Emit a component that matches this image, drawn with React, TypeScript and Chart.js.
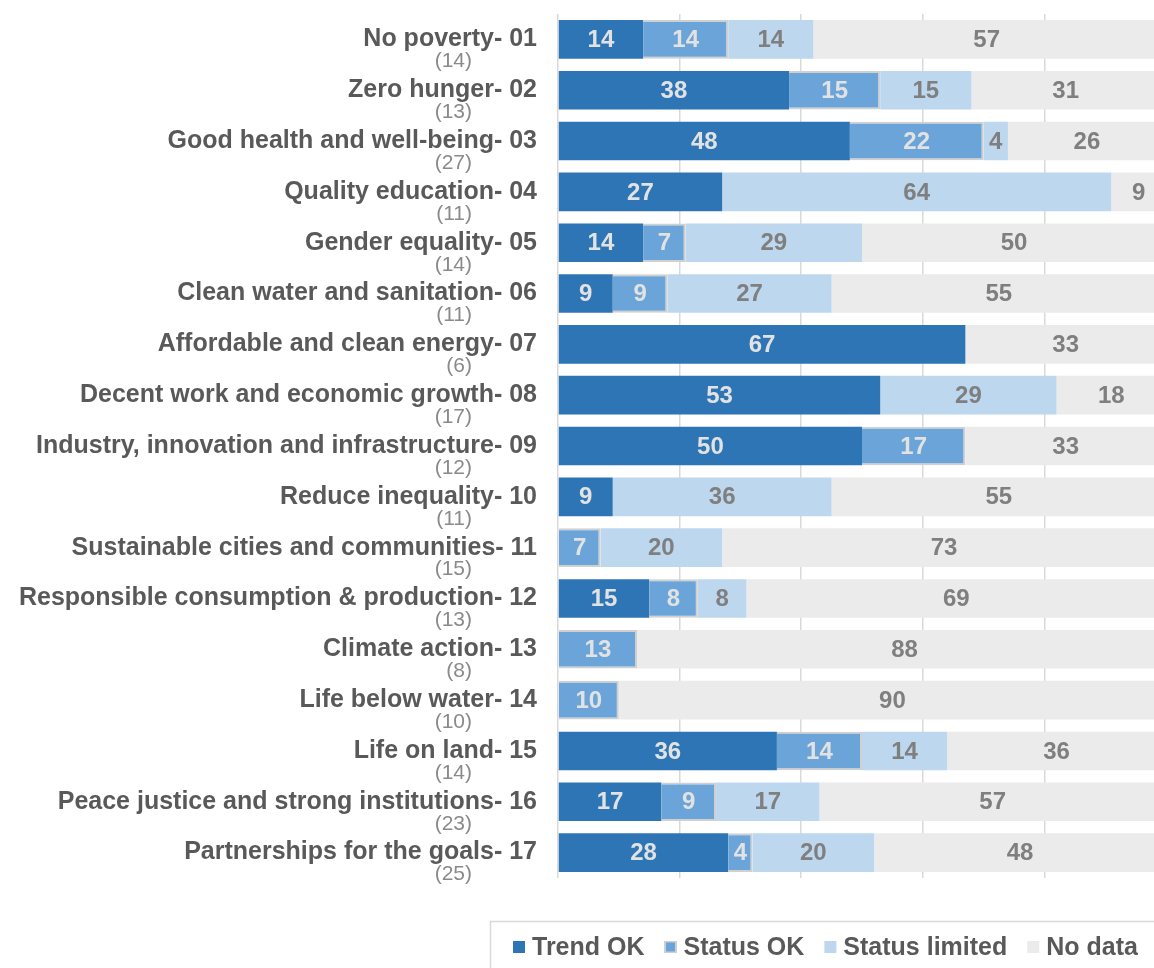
import React, { useEffect, useRef } from "react";
import { Chart, registerables } from "chart.js";

Chart.register(...registerables);

const categories = [
  "No poverty- 01",
  "Zero hunger- 02",
  "Good health and well-being- 03",
  "Quality education- 04",
  "Gender equality- 05",
  "Clean water and sanitation- 06",
  "Affordable and clean energy- 07",
  "Decent work and economic growth- 08",
  "Industry, innovation and infrastructure- 09",
  "Reduce inequality- 10",
  "Sustainable cities and communities- 11",
  "Responsible consumption & production- 12",
  "Climate action- 13",
  "Life below water- 14",
  "Life on land- 15",
  "Peace justice and strong institutions- 16",
  "Partnerships for the goals- 17",
];

const indicatorCounts = [14, 13, 27, 11, 14, 11, 6, 17, 12, 11, 15, 13, 8, 10, 14, 23, 25];

const trendOK = [14, 38, 48, 27, 14, 9, 67, 53, 50, 9, 0, 15, 0, 0, 36, 17, 28];
const statusOK = [14, 15, 22, 0, 7, 9, 0, 0, 17, 0, 7, 8, 13, 10, 14, 9, 4];
const statusLimited = [14, 15, 4, 64, 29, 27, 0, 29, 0, 36, 20, 8, 0, 0, 14, 17, 20];
const noData = [57, 31, 26, 9, 50, 55, 33, 18, 33, 55, 73, 69, 88, 90, 36, 57, 48];

const seriesNames = ["Trend OK", "Status OK", "Status limited", "No data"];

const FONT = "'Liberation Sans', Arial, sans-serif";

export default function App() {
  const ref = useRef<HTMLCanvasElement | null>(null);

  useEffect(() => {
    if (!ref.current) return;

    const valueLabels = {
      id: "valueLabels",
      afterDatasetsDraw(chart: any) {
        const ctx = chart.ctx;
        ctx.save();
        ctx.font = `bold 24px ${FONT}`;
        ctx.textAlign = "center";
        ctx.textBaseline = "middle";
        chart.data.datasets.forEach((ds: any, i: number) => {
          const meta = chart.getDatasetMeta(i);
          meta.data.forEach((el: any, j: number) => {
            const v = ds.data[j];
            if (!v) return;
            ctx.fillStyle = ds.labelColor;
            ctx.fillText(String(v), (el.x + el.base) / 2, el.y + 1);
          });
        });
        ctx.restore();
      },
    };

    const countLabels = {
      id: "countLabels",
      afterDraw(chart: any) {
        const ctx = chart.ctx;
        const y = chart.scales.y;
        ctx.save();
        ctx.font = `21px ${FONT}`;
        ctx.fillStyle = "#8a8a8a";
        ctx.textAlign = "right";
        ctx.textBaseline = "middle";
        indicatorCounts.forEach((c, i) => {
          ctx.fillText(`(${c})`, 472, y.getPixelForValue(i) + 22);
        });
        ctx.restore();
      },
    };

    const boxLegend = {
      id: "boxLegend",
      afterDraw(chart: any) {
        const ctx = chart.ctx;
        ctx.save();
        ctx.strokeStyle = "#d9d9d9";
        ctx.lineWidth = 1.5;
        ctx.strokeRect(490.5, 921.5, 800, 100);
        ctx.font = `bold 25px ${FONT}`;
        ctx.textBaseline = "middle";
        ctx.textAlign = "left";
        let x = 513;
        const cy = 947;
        chart.data.datasets.forEach((ds: any) => {
          ctx.fillStyle = ds.backgroundColor;
          ctx.fillRect(x, cy - 6, 12, 12);
          if (ds.borderWidth) {
            ctx.strokeStyle = ds.borderColor;
            ctx.lineWidth = 1.5;
            ctx.strokeRect(x + 0.75, cy - 5.25, 10.5, 10.5);
          }
          ctx.fillStyle = "#595959";
          ctx.fillText(ds.label, x + 19, cy + 1);
          x += 19 + ctx.measureText(ds.label).width + 20;
        });
        ctx.restore();
      },
    };

    const chart = new Chart(ref.current, {
      type: "bar",
      data: {
        labels: categories,
        datasets: [
          {
            label: seriesNames[0],
            data: trendOK,
            backgroundColor: "#2E75B6",
            borderWidth: 0,
            labelColor: "#e2e2e2",
          } as any,
          {
            label: seriesNames[1],
            data: statusOK,
            backgroundColor: "#6BA4D8",
            borderColor: "#d0d0d0",
            borderWidth: 2,
            labelColor: "#e2e2e2",
          } as any,
          {
            label: seriesNames[2],
            data: statusLimited,
            backgroundColor: "#BDD7EE",
            borderWidth: 0,
            labelColor: "#7f7f7f",
          } as any,
          {
            label: seriesNames[3],
            data: noData,
            backgroundColor: "#EBEBEB",
            borderWidth: 0,
            labelColor: "#7f7f7f",
          } as any,
        ],
      },
      options: {
        indexAxis: "y",
        responsive: false,
        animation: false,
        devicePixelRatio: 1,
        layout: { padding: { top: 14, bottom: 90, left: 0, right: 0 } },
        datasets: {
          bar: { categoryPercentage: 1, barPercentage: 0.76 },
        },
        scales: {
          x: {
            stacked: true,
            min: 0,
            max: 100,
            ticks: { display: false, stepSize: 20 },
            grid: { color: "#d9d9d9", lineWidth: 1.5, drawTicks: false },
            border: { display: false },
            afterFit: (s: any) => {
              s.height = 0;
              s.paddingLeft = 0;
              s.paddingRight = 0;
            },
          },
          y: {
            stacked: true,
            grid: { display: false, drawTicks: false },
            border: { display: false },
            ticks: {
              autoSkip: false,
              padding: 21,
              color: "#595959",
              font: { family: FONT, size: 25, weight: "bold" },
            },
            afterFit: (s: any) => {
              s.width = 558;
              s.paddingTop = 0;
              s.paddingBottom = 0;
            },
          },
        },
        plugins: {
          legend: { display: false },
          tooltip: { enabled: false },
        },
      },
      plugins: [valueLabels, countLabels, boxLegend],
    });

    return () => chart.destroy();
  }, []);

  return (
    <div
      style={{
        position: "absolute",
        left: 0,
        top: 0,
        width: 1154,
        height: 968,
        overflow: "hidden",
        background: "#ffffff",
      }}
    >
      <canvas ref={ref} width={1166} height={968} style={{ display: "block", width: 1166, height: 968 }} />
    </div>
  );
}
